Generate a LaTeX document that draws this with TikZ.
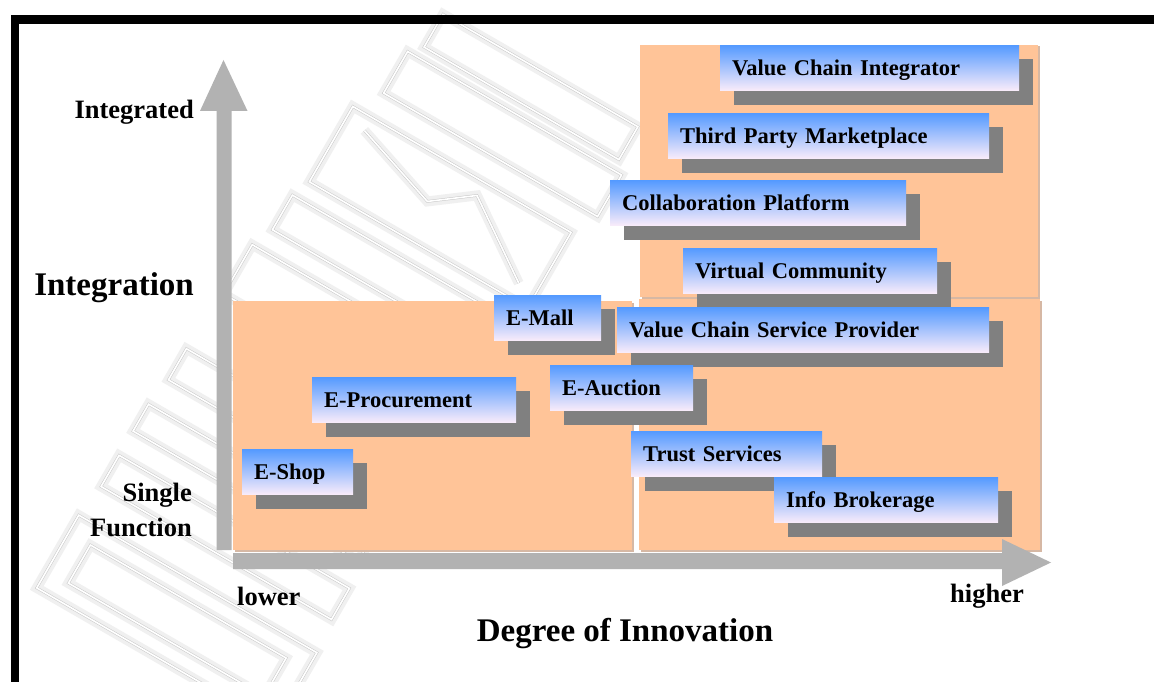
\documentclass[tikz,border=0pt]{standalone}
\usepackage{fontspec}
\setmainfont{Liberation Serif}
\usetikzlibrary{shadows}

\definecolor{peach}{RGB}{255,196,152}
\definecolor{peachedge}{RGB}{214,184,164}
\definecolor{axisgray}{RGB}{178,178,178}
\definecolor{shadowgray}{RGB}{128,128,128}
\definecolor{boxtop}{RGB}{84,154,255}
\definecolor{boxbottom}{RGB}{250,236,250}
\definecolor{markgray}{RGB}{200,200,200}
\definecolor{markhaze}{RGB}{240,240,240}

\tikzset{
  zone/.style={fill=peach, draw=none,
    drop shadow={shadow xshift=1.5pt, shadow yshift=-1.5pt, fill=peachedge, opacity=1}},
  cbox/.style={anchor=north west, rectangle, minimum height=45.5pt,
    inner xsep=12pt, inner ysep=0pt, text height=15pt, text depth=0pt,
    align=left, top color=boxtop, bottom color=boxbottom,
    font=\fontsize{22.5}{27}\selectfont\bfseries,
    drop shadow={shadow xshift=14pt, shadow yshift=-14pt, fill=shadowgray, opacity=1}},
  axislabel/.style={font=\fontsize{26.5}{35}\selectfont\bfseries, inner sep=0pt},
  biglabel/.style={font=\fontsize{33}{40}\selectfont\bfseries, inner sep=0pt},
  axisarrow/.style={fill=axisgray, draw=none},
  logoline/.style={preaction={draw=markhaze, line width=10pt},
    draw=markgray, line width=0.5pt, double=white, double distance=1.6pt}
}

\begin{document}
\begin{tikzpicture}[x=1pt, y=-1pt]
  \useasboundingbox (0,0) rectangle (1154,682);
  \fill[white] (0,0) rectangle (1154,682);

  % faint background logo, tilted bands
  \begin{scope}[shift={(330,330)}, rotate=-30]
    \draw[logoline] (-60,-330) rectangle (165,-292);
    \draw[logoline] (-72,-280) rectangle (175,-232);
    \draw[logoline] (-92,-205) rectangle (160,-118);
    \draw[logoline] (-70,-190) -- (20,-160) -- (60,-190) -- (140,-135);
    \draw[logoline] (-100,-98) rectangle (145,-58);
    \draw[logoline] (-110,-35) rectangle (150,22);
    \draw[logoline] (-115,88) rectangle (130,124);
    \draw[logoline] (-120,155) rectangle (140,186);
    \draw[logoline] (-120,214) rectangle (146,250);
    \draw[logoline] (-125,286) rectangle (150,370);
    \draw[logoline] (-100,306) rectangle (126,350);
  \end{scope}

  % frame bars
  \fill[black] (11,15) rectangle (1154,24);
  \fill[black] (11,15) rectangle (19,682);

  % background zones
  \fill[zone] (233,301) rectangle (632,550);
  \fill[zone] (639,299) rectangle (1040,550);
  \fill[zone] (640,45) rectangle (1038,297);

  % axes
  \fill[axisarrow] (216.5,550) -- (216.5,111) -- (200,111) -- (223.5,60)
                   -- (247.5,111) -- (231.5,111) -- (231.5,550) -- cycle;
  \fill[axisarrow] (233,553) -- (1002,553) -- (1002,539) -- (1051,562.5)
                   -- (1002,586) -- (1002,569) -- (233,569) -- cycle;

  % business model boxes
  \node[cbox, text width=275pt] (vci)  at (720,45)  {Value Chain Integrator};
  \node[cbox, text width=297pt] (tpm)  at (668,113) {Third Party Marketplace};
  \node[cbox, text width=272pt] (cp)   at (610,180) {Collaboration Platform};
  \node[cbox, text width=230pt] (vc)   at (683,248) {Virtual Community};
  \node[cbox, text width=83pt]  (mall) at (494,295) {E-Mall};
  \node[cbox, text width=348pt] (vcsp) at (617,307) {Value Chain Service Provider};
  \node[cbox, text width=180pt] (proc) at (312,377) {E-Procurement};
  \node[cbox, text width=119pt] (auct) at (550,365) {E-Auction};
  \node[cbox, text width=167pt] (trust) at (631,431) {Trust Services};
  \node[cbox, text width=200pt] (info) at (774,477) {Info Brokerage};
  \node[cbox, text width=87pt]  (shop) at (242,449) {E-Shop};

  % axis labels
  \node[axislabel, anchor=base east] (integrated) at (194,119) {Integrated};
  \node[biglabel, anchor=base east] (integration) at (194,295) {Integration};
  \node[axislabel, anchor=south east, align=right, text depth=0pt] (single) at (192,537) {Single\\Function};
  \node[axislabel, anchor=base west] (lower) at (237,605) {lower};
  \node[axislabel, anchor=base west] (higher) at (950,602) {higher};
  \node[biglabel, anchor=base] (innovation) at (625,641) {Degree of Innovation};
\end{tikzpicture}
\end{document}
